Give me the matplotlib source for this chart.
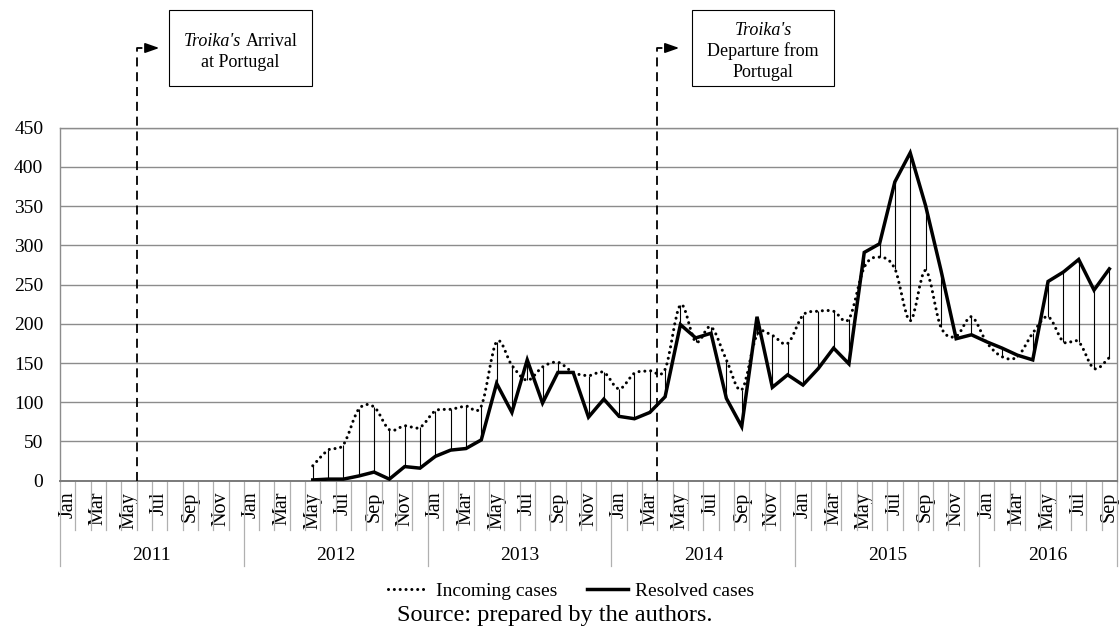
#!/usr/bin/env python3
"""
plot.py - Incoming vs resolved cases per month, 2011-2016, with Troika marks
"""

import matplotlib
matplotlib.use('Agg')
import matplotlib.pyplot as plt
import numpy as np
from matplotlib.path import Path
from matplotlib.patches import PathPatch, Rectangle
from matplotlib.lines import Line2D

plt.rcParams['font.family'] = ['Liberation Serif', 'DejaVu Serif']

# ---- data ---------------------------------------------------------------
years = [2011, 2012, 2013, 2014, 2015, 2016]
months = ['Jan', 'Feb', 'Mar', 'Apr', 'May', 'Jun',
          'Jul', 'Aug', 'Sep', 'Oct', 'Nov', 'Dec']
n_months = 69          # Jan 2011 .. Sep 2016
first_month = 16       # series start in May 2012

incoming = [19, 39, 46, 91, 94, 65, 70, 68,                     # 2012 May-Dec
            89, 91, 95, 95, 177, 147, 128, 145, 151, 138, 134, 138,  # 2013
            117, 137, 140, 142, 224, 177, 196, 154, 116, 186, 185, 175,  # 2014
            211, 216, 216, 206, 272, 285, 270, 204, 268, 196, 184, 209,  # 2015
            176, 158, 158, 188, 209, 177, 177, 143, 157]             # 2016 Jan-Sep

resolved = [1, 2, 2, 6, 11, 2, 18, 16,
            31, 39, 41, 52, 124, 87, 154, 99, 138, 138, 81, 104,
            82, 79, 87, 107, 199, 182, 188, 105, 69, 209, 119, 135,
            122, 143, 169, 149, 291, 302, 381, 418, 351, 269, 181, 186,
            177, 169, 160, 154, 254, 266, 282, 243, 270]

# month boundaries where the Troika marks are drawn
arrival_at = 5
departure_at = 39

# ---- figure -------------------------------------------------------------
W, H = 1120, 634
fig = plt.figure(figsize=(W / 100, H / 100), dpi=100)
ax = fig.add_axes([60 / W, (H - 480.7) / H, 1057 / W, 353 / H])

x = np.arange(first_month, first_month + len(incoming)) + 0.5
inc = np.array(incoming, dtype=float)
res = np.array(resolved, dtype=float)

ax.set_xlim(0, n_months)
ax.set_ylim(0, 450)
ax.set_yticks(range(0, 451, 50))
ax.yaxis.grid(True, color='#8c8c8c', linewidth=1.0)
ax.set_axisbelow(True)

for side in ['left', 'top', 'right']:
    ax.spines[side].set_color('#8c8c8c')
    ax.spines[side].set_linewidth(1.0)
ax.spines['bottom'].set_color('#7a7a7a')
ax.spines['bottom'].set_linewidth(1.4)

ax.tick_params(axis='y', length=0, pad=12, labelsize=14)

# month labels, every other month
ax.set_xticks(np.arange(n_months) + 0.5)
ax.set_xticklabels([months[i % 12] if i % 2 == 0 else '' for i in range(n_months)])
ax.tick_params(axis='x', length=0, pad=8, labelsize=14.5, labelrotation=90)

trans = ax.get_xaxis_transform()

# category separators
for b in range(1, n_months):
    if b % 12:
        ax.plot([b, b], [0, -0.1397], transform=trans, clip_on=False,
                color='#b0b0b0', linewidth=0.9)
year_edges = [0, 12, 24, 36, 48, 60, n_months]
for b in year_edges:
    ax.plot([b, b], [0, -0.2416], transform=trans, clip_on=False,
            color='#b0b0b0', linewidth=0.9)
for k, yr in enumerate(years):
    ax.text((year_edges[k] + year_edges[k + 1]) / 2, -0.2105, str(yr),
            transform=trans, ha='center', va='center', fontsize=14)

# high-low lines
ax.vlines(x, np.minimum(inc, res), np.maximum(inc, res),
          color='black', linewidth=0.8, zorder=2)

# incoming: smoothed dotted line (bezier through the points)
pts = np.column_stack([x, inc])
verts = [pts[0]]
codes = [Path.MOVETO]
for k in range(len(pts) - 1):
    p0 = pts[max(k - 1, 0)]
    p1 = pts[k]
    p2 = pts[k + 1]
    p3 = pts[min(k + 2, len(pts) - 1)]
    verts += [p1 + (p2 - p0) / 6, p2 - (p3 - p1) / 6, p2]
    codes += [Path.CURVE4] * 3
dotted = (0, (0.01, 1.9))
ax.add_patch(PathPatch(Path(verts, codes), fill=False, edgecolor='black',
                       linewidth=2.2, linestyle=dotted, capstyle='round', zorder=3))

# resolved: straight solid line
ax.plot(x, res, color='black', linewidth=2.5, solid_joinstyle='miter', zorder=4)

# ---- Troika markers -----------------------------------------------------
y_top = (480.7 - 48) / 353
for at, tip in [(arrival_at, 1.48), (departure_at, 1.42)]:
    ax.plot([at, at, at + 0.48], [0, y_top, y_top], transform=trans, clip_on=False,
            color='black', linewidth=1.3, linestyle=(0, (5, 3.2)), zorder=5)
    ax.annotate('', xy=(at + tip, y_top), xytext=(at + 0.6, y_top),
                xycoords=trans, textcoords=trans, annotation_clip=False,
                arrowprops=dict(arrowstyle='-|>,head_length=0.85,head_width=0.3',
                                color='black', linewidth=1.2, shrinkA=0, shrinkB=0))

renderer = fig.canvas.get_renderer()


def rich_line(pieces, cx, baseline, size=13):
    """Draw one centred line made of (text, style) pieces; pixel coords."""
    space = size * 100 / 72 * 0.25
    items = []
    for s, style in pieces:
        t = fig.text(0, 1 - baseline / H, s, fontsize=size, style=style,
                     ha='left', va='baseline')
        items.append((t, t.get_window_extent(renderer).width))
    total = sum(w for _, w in items) + space * (len(items) - 1)
    left = cx - total / 2
    for t, w in items:
        t.set_x(left / W)
        left += w + space


for (bx, bw) in [(169, 143), (692, 142)]:
    fig.add_artist(Rectangle((bx / W, 1 - 86 / H), bw / W, 76 / H,
                             transform=fig.transFigure, fill=False,
                             edgecolor='black', linewidth=0.8))

rich_line([("Troika's", 'italic'), ('Arrival', 'normal')], 240.5, 46)
rich_line([('at Portugal', 'normal')], 240.5, 66.7)
rich_line([("Troika's", 'italic')], 763, 35.3)
rich_line([('Departure from', 'normal')], 763, 56)
rich_line([('Portugal', 'normal')], 763, 76.7)

# ---- legend and source --------------------------------------------------
handles = [Line2D([], [], color='black', linewidth=2.2, linestyle=dotted,
                  dash_capstyle='round'),
           Line2D([], [], color='black', linewidth=2.5)]
fig.legend(handles, ['Incoming cases', 'Resolved cases'], loc='center',
           bbox_to_anchor=(571 / W, 1 - 591 / H), ncol=2, frameon=False,
           fontsize=14, handlelength=2.1, handletextpad=0.4,
           columnspacing=1.5, borderpad=0, borderaxespad=0)

fig.text(554.5 / W, 1 - 621.5 / H, 'Source: prepared by the authors.',
         ha='center', va='baseline', fontsize=17.5)

fig.savefig('out.png', dpi=100)
